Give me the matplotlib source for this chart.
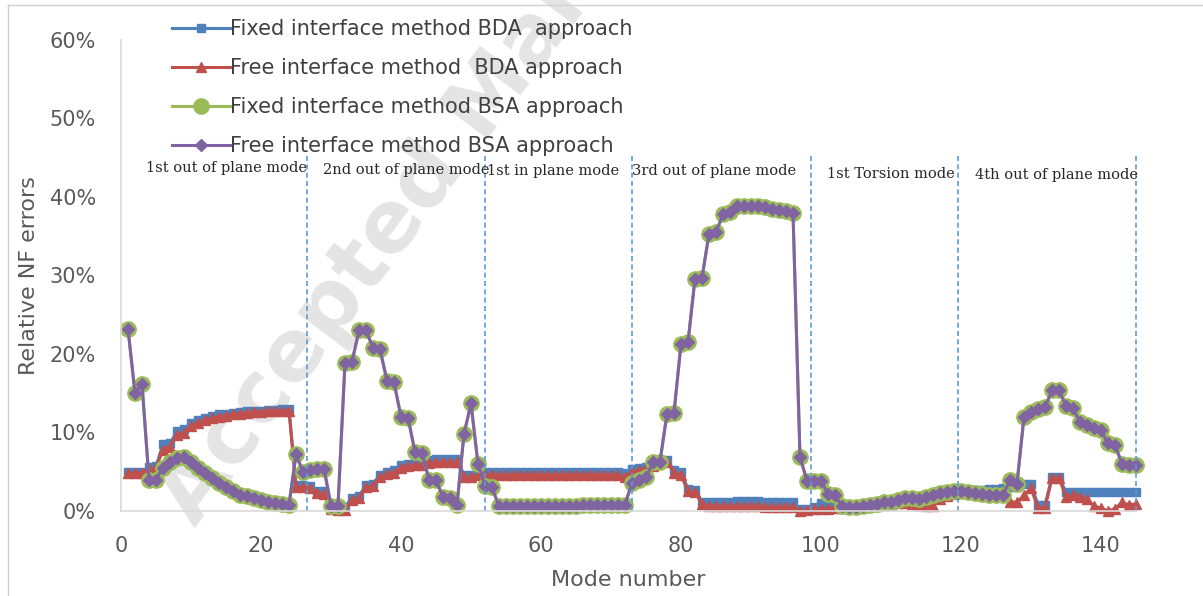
import numpy as np
import matplotlib
matplotlib.use('Agg')
import matplotlib.pyplot as plt
from matplotlib.lines import Line2D
from matplotlib.ticker import FuncFormatter

# Relative natural-frequency errors (%) per mode number
modes = np.arange(1, 146)

fixed_bda = [
    5.0, 5.0, 5.0, 5.6, 5.7, 8.5, 8.6, 10.2, 10.4, 11.2, 11.6, 11.9,
    12.1, 12.3, 12.4, 12.5, 12.6, 12.7, 12.8, 12.8, 12.9, 12.9, 13.0, 13.0,
    3.3, 3.3, 3.2, 2.6, 2.5, 0.6, 0.5, 0.5, 1.7, 1.9, 3.3, 3.5, 4.6, 5.0,
    5.2, 5.8, 6.0, 6.1, 6.2, 6.5, 6.6, 6.6, 6.6, 6.6, 4.6, 4.6, 5.0,
    5.0, 5.0, 5.0, 5.0, 5.0, 5.0, 5.0, 5.0, 5.0, 5.0, 5.0,
    5.0, 5.0, 5.0, 5.0, 5.0, 5.0, 5.0, 5.0, 5.0, 4.9,
    5.3, 5.5, 5.6, 6.0, 6.5, 6.5, 5.2, 5.0, 2.8, 2.7, 1.2, 1.1, 1.2,
    1.2, 1.2, 1.3, 1.3, 1.3, 1.3, 1.2, 1.2, 1.2, 1.2, 1.1, 0.3,
    0.3, 0.5, 1.0, 1.0, 0.9, 0.9, 0.8, 0.8, 0.8, 0.9, 1.0, 1.1,
    1.2, 1.3, 1.4, 1.5, 1.6, 1.7, 1.9, 2.1, 2.3, 2.4,
    2.7, 2.7, 2.7, 2.7, 2.8, 2.8, 2.9, 3.0, 3.0, 3.4, 3.4, 0.8, 0.8,
    4.3, 4.3, 2.4, 2.4, 2.4, 2.4, 2.4, 2.4, 2.4, 2.4, 2.4, 2.4, 2.4,
]

free_bda = [
    4.8, 4.8, 4.9, 5.3, 5.5, 7.8, 8.2, 9.7, 10.0, 10.8, 11.2, 11.6,
    11.8, 12.0, 12.1, 12.3, 12.4, 12.5, 12.6, 12.6, 12.7, 12.7, 12.8, 12.8,
    3.0, 3.0, 2.9, 2.3, 2.2, 0.2, 0.1, 0.1, 1.4, 1.6, 3.0, 3.2, 4.3, 4.7,
    4.9, 5.5, 5.7, 5.8, 5.9, 6.1, 6.2, 6.2, 6.2, 6.2, 4.3, 4.3, 4.6,
    4.6, 4.6, 4.6, 4.6, 4.6, 4.6, 4.6, 4.6, 4.6, 4.6, 4.6,
    4.6, 4.6, 4.6, 4.6, 4.6, 4.6, 4.6, 4.6, 4.6, 4.3,
    5.0, 5.2, 5.3, 5.7, 6.2, 6.2, 4.9, 4.6, 2.5, 2.4, 0.9, 0.7, 0.6,
    0.6, 0.6, 0.6, 0.6, 0.6, 0.6, 0.5, 0.5, 0.5, 0.5, 0.5, 0.0,
    0.1, 0.2, 0.2, 0.3, 0.4, 0.4, 0.5, 0.5, 0.6, 0.6, 0.7, 0.8,
    0.9, 1.0, 1.0, 0.9, 0.8, 0.6, 0.6, 1.5, 1.9, 2.2,
    2.4, 2.4, 2.3, 2.3, 2.2, 2.2, 2.2, 1.2, 1.1, 2.0, 2.9, 0.4, 0.4,
    4.2, 4.2, 1.8, 2.0, 1.8, 1.5, 0.6, 0.4, 0.0, 0.3, 1.1, 0.8, 0.9,
]

fixed_bsa = [
    23.2, 15.0, 16.2, 4.0, 4.0, 5.5, 6.3, 6.7, 6.9, 6.2, 5.5, 4.8,
    4.2, 3.6, 3.0, 2.6, 2.1, 1.9, 1.6, 1.4, 1.2, 1.0, 0.9, 0.8,
    7.2, 5.0, 5.2, 5.3, 5.4, 0.7, 0.7, 18.9, 19.0, 23.0, 23.0, 20.8, 20.6,
    16.6, 16.4, 12.0, 11.9, 7.5, 7.4, 4.0, 3.9, 1.8, 1.6, 0.8, 9.8, 13.7, 6.0,
    3.2, 3.0, 0.6, 0.6, 0.7, 0.7, 0.6, 0.6, 0.7, 0.7, 0.7,
    0.7, 0.7, 0.7, 0.8, 0.8, 0.8, 0.8, 0.8, 0.8, 0.8,
    3.6, 4.0, 4.3, 6.2, 6.3, 12.4, 12.5, 21.3, 21.5, 29.6, 29.7, 35.3, 35.5,
    37.8, 38.1, 38.8, 38.9, 38.9, 38.8, 38.7, 38.5, 38.4, 38.2, 38.0, 6.9,
    3.8, 3.8, 3.8, 2.2, 2.0, 0.6, 0.5, 0.5, 0.6, 0.8, 0.9, 1.1,
    1.2, 1.4, 1.6, 1.6, 1.5, 1.8, 2.1, 2.3, 2.4, 2.5,
    2.5, 2.4, 2.3, 2.2, 2.1, 2.0, 2.0, 4.0, 3.5, 12.0, 12.6, 13.0, 13.2,
    15.4, 15.4, 13.4, 13.1, 11.3, 11.0, 10.6, 10.3, 8.6, 8.4, 6.0, 5.9, 5.9,
]
# both BSA variants give the same errors
free_bsa = list(fixed_bsa)

series_names = [
    'Fixed interface method BDA  approach',
    'Free interface method  BDA approach',
    'Fixed interface method BSA approach',
    'Free interface method BSA approach',
]

# mode-group boundaries and their captions
bounds = [26.5, 52, 73, 98.5, 119.5, 145]
group_names = ['1st out of plane mode', '2nd out of plane mode', '1st in plane mode',
               '3rd out of plane mode', '1st Torsion mode', '4th out of plane mode']
group_x = [3.6, 28.9, 52.3, 73.0, 100.9, 122.0]
group_y = [43.7, 43.4, 43.3, 43.3, 42.9, 42.8]

W, H = 1203, 596
fig = plt.figure(figsize=(W / 100, H / 100), dpi=100)
ax = fig.add_axes([121 / W, 1 - 511 / H, (1136 - 121) / W, (511 - 40) / H])
ax.patch.set_alpha(0)

# faint diagonal stamp behind the curves
fig.text(195 / W, 1 - 528 / H, 'Accepted Manuscript', rotation=53, rotation_mode='anchor',
         ha='left', va='baseline', fontsize=62, fontweight='bold', color='#E4E4E4', zorder=-1)

# outer frame (left and top edges)
fig.add_artist(Line2D([8 / W, 8 / W], [0, 1 - 5 / H], transform=fig.transFigure, color='#D0D0D0', lw=1))
fig.add_artist(Line2D([8 / W, 1], [1 - 5 / H, 1 - 5 / H], transform=fig.transFigure, color='#D0D0D0', lw=1))

kw = dict(lw=2.2, clip_on=False)
ax.plot(modes, fixed_bda, color='#4F81BD', marker='s', ms=5.5, label=series_names[0], **kw)
ax.plot(modes, free_bda, color='#C0504D', marker='^', ms=6.5, label=series_names[1], **kw)
ax.plot(modes, fixed_bsa, color='#9BBB59', marker='o', ms=11, label=series_names[2], **kw)
ax.plot(modes, free_bsa, color='#8064A2', marker='D', ms=6.5, label=series_names[3], **kw)

ax.vlines(bounds, 0, 45.3, colors='#5B9BD5', linestyles=(0, (3, 2)), lw=1.2, clip_on=False)
for x, y, s in zip(group_x, group_y, group_names):
    ax.text(x, y, s, fontsize=10.5, family='DejaVu Serif', color='#262626', va='center', ha='left')

ax.set_xlim(0, 145)
ax.set_ylim(0, 60)
ax.set_xticks(np.arange(0, 141, 20))
ax.set_yticks(np.arange(0, 61, 10))
ax.yaxis.set_major_formatter(FuncFormatter(lambda v, p: '%d%%' % v))
ax.tick_params(length=0, labelsize=15, colors='#595959')
ax.tick_params(axis='x', pad=18)
ax.tick_params(axis='y', pad=18)
for side in ['top', 'right']:
    ax.spines[side].set_visible(False)
for side in ['left', 'bottom']:
    ax.spines[side].set_color('#D9D9D9')
    ax.spines[side].set_linewidth(1.2)

ax.set_xlabel('Mode number', fontsize=16, color='#595959', labelpad=10)
ax.set_ylabel('Relative NF errors', fontsize=16, color='#595959', labelpad=8)

leg = fig.legend(loc='upper left', bbox_to_anchor=(172 / W, 1 - 19 / H), frameon=False,
                 fontsize=15, handlelength=2.8, handletextpad=0.0, labelspacing=0.92,
                 borderpad=0, borderaxespad=0)
for t in leg.get_texts():
    t.set_color('#404040')

fig.savefig('out.png', dpi=100)
